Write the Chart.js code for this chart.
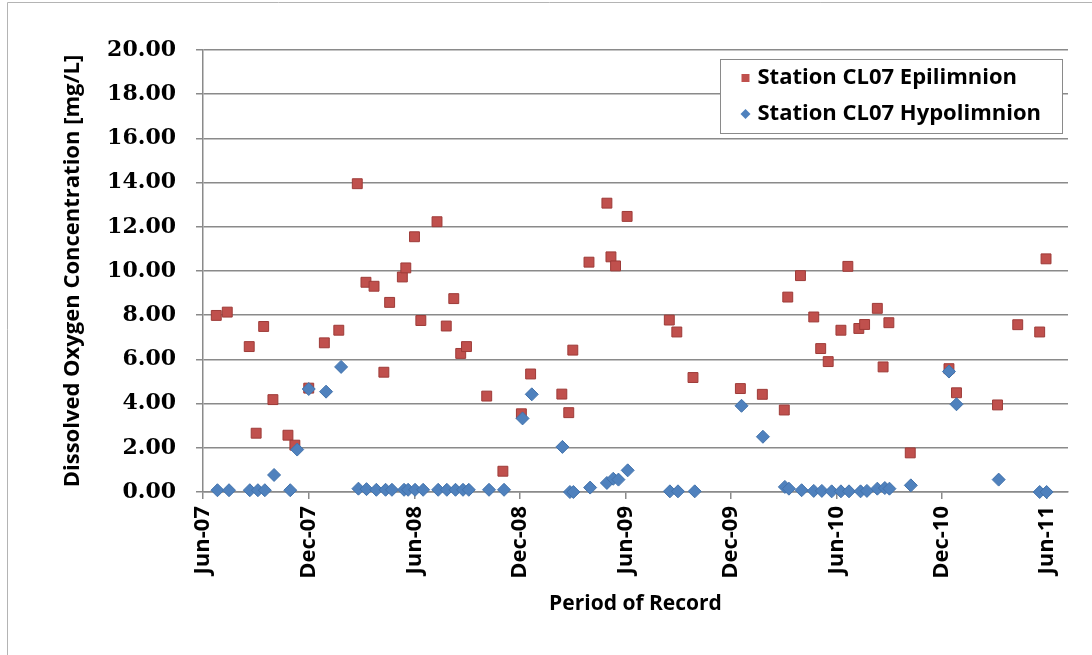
<!DOCTYPE html>
<html>
<head>
<meta charset="utf-8">
<script src="https://cdn.jsdelivr.net/npm/chart.js@4.4.1/dist/chart.umd.min.js"></script>
<style>
  html, body { margin: 0; padding: 0; background: #fff; }
  #wrap { width: 1092px; height: 655px; position: relative; }
</style>
</head>
<body>
<div id="wrap"><canvas id="doChart" width="1092" height="655"></canvas></div>
<script>
// Station CL07 dissolved oxygen readings
const epiDates = ['2007-06-24','2007-07-13','2007-08-20','2007-09-01','2007-09-14','2007-09-30','2007-10-26','2007-11-07','2007-12-01','2007-12-28',
  '2008-01-22','2008-02-23','2008-03-09','2008-03-23','2008-04-09','2008-04-19','2008-05-11','2008-05-17','2008-06-01','2008-06-12',
  '2008-07-10','2008-07-26','2008-08-08','2008-08-20','2008-08-30','2008-10-04','2008-11-01','2008-12-03','2008-12-19','2009-02-11',
  '2009-02-23','2009-03-02','2009-03-30','2009-04-30','2009-05-07','2009-05-15','2009-06-04','2009-08-16','2009-08-29','2009-09-26',
  '2009-12-17','2010-01-24','2010-03-03','2010-03-09','2010-03-31','2010-04-23','2010-05-05','2010-05-18','2010-06-09','2010-06-21',
  '2010-07-10','2010-07-20','2010-08-11','2010-08-21','2010-08-31','2010-10-07','2010-12-13','2010-12-26','2011-03-07','2011-04-11',
  '2011-05-19','2011-05-30'];
const epiValues = [7.99, 8.14, 6.58, 2.66, 7.49, 4.18, 2.57, 2.12, 4.70, 6.75,
  7.32, 13.95, 9.49, 9.31, 5.42, 8.58, 9.73, 10.14, 11.55, 7.76,
  12.23, 7.51, 8.75, 6.27, 6.58, 4.34, 0.94, 3.54, 5.34, 4.43,
  3.59, 6.42, 10.40, 13.07, 10.64, 10.23, 12.47, 7.78, 7.24, 5.18,
  4.68, 4.42, 3.71, 8.82, 9.79, 7.92, 6.49, 5.90, 7.32, 10.21,
  7.40, 7.58, 8.31, 5.66, 7.66, 1.77, 5.58, 4.49, 3.94, 7.57,
  7.24, 10.55];

const hypoDates = ['2007-06-26','2007-07-16','2007-08-21','2007-09-04','2007-09-16','2007-10-02','2007-10-30','2007-11-11','2007-12-01','2007-12-31',
  '2008-01-26','2008-02-25','2008-03-10','2008-03-27','2008-04-12','2008-04-23','2008-05-14','2008-05-21','2008-06-02','2008-06-16',
  '2008-07-12','2008-07-27','2008-08-11','2008-08-24','2008-09-03','2008-10-08','2008-11-03','2008-12-05','2008-12-21','2009-02-12',
  '2009-02-25','2009-03-03','2009-04-01','2009-04-30','2009-05-11','2009-05-20','2009-06-05','2009-08-17','2009-08-31','2009-09-29',
  '2009-12-19','2010-01-25','2010-03-04','2010-03-11','2010-04-02','2010-04-23','2010-05-07','2010-05-24','2010-06-09','2010-06-23',
  '2010-07-13','2010-07-24','2010-08-11','2010-08-24','2010-09-01','2010-10-08','2010-12-13','2010-12-26','2011-03-09','2011-05-19',
  '2011-05-31'];
const hypoValues = [0.08, 0.08, 0.08, 0.08, 0.08, 0.77, 0.08, 1.92, 4.66, 4.54,
  5.66, 0.15, 0.13, 0.10, 0.10, 0.10, 0.10, 0.10, 0.10, 0.10,
  0.10, 0.10, 0.10, 0.10, 0.10, 0.10, 0.10, 3.33, 4.42, 2.04,
  0.00, 0.00, 0.20, 0.41, 0.60, 0.56, 0.98, 0.03, 0.03, 0.03,
  3.90, 2.50, 0.23, 0.15, 0.08, 0.05, 0.05, 0.03, 0.03, 0.03,
  0.03, 0.05, 0.15, 0.18, 0.15, 0.30, 5.45, 3.97, 0.56, 0.00,
  0.00];

const xTickDates = ['2007-06-01','2007-12-01','2008-06-01','2008-12-01','2009-06-01','2009-12-01','2010-06-01','2010-12-01','2011-06-01'];
const xTickLabels = ['Jun-07','Dec-07','Jun-08','Dec-08','Jun-09','Dec-09','Jun-10','Dec-10','Jun-11'];
const xMin = '2007-06-01';
const xMax = '2011-07-07';

const seriesNames = ['Station CL07 Epilimnion', 'Station CL07 Hypolimnion'];

const toTime = (s) => Date.parse(s + 'T00:00:00Z');
const toPoints = (dates, values) => dates.map((d, i) => ({ x: toTime(d), y: values[i] }));

const gridGray = '#8a8a8a';
const sansFont = "'Open Sans', 'DejaVu Sans', sans-serif";

// draws the boxed legend in the upper right of the plot, plus the outer frame
const boxLegend = {
    id: 'boxLegend',
    afterDraw(chart) {
        const ctx = chart.ctx;
        const area = chart.chartArea;
        ctx.save();

        // outer frame (top and left edges visible)
        ctx.strokeStyle = '#b4b4b4';
        ctx.lineWidth = 1;
        ctx.beginPath();
        ctx.moveTo(7.5, 700);
        ctx.lineTo(7.5, 2.5);
        ctx.lineTo(1092, 2.5);
        ctx.stroke();

        ctx.font = 'bold 22px ' + sansFont;
        const textW = Math.max(...seriesNames.map(n => ctx.measureText(n).width));
        const right = area.right - 6;
        const top = area.top + 9;
        const w = textW + 58;
        const h = 74;
        const left = right - w;

        ctx.fillStyle = '#ffffff';
        ctx.fillRect(left, top, w, h);
        ctx.strokeStyle = '#8a8a8a';
        ctx.strokeRect(Math.round(left) + 0.5, top + 0.5, Math.round(w), h);

        const rows = [top + 19, top + 55];
        chart.data.datasets.forEach((ds, i) => {
            const cy = rows[i];
            const cx = left + 25;
            ctx.fillStyle = ds.backgroundColor;
            ctx.strokeStyle = ds.borderColor;
            ctx.beginPath();
            if (ds.pointStyle === 'rect') {
                ctx.rect(cx - 4, cy - 4, 8, 8);
            } else {
                ctx.moveTo(cx, cy - 5);
                ctx.lineTo(cx + 5, cy);
                ctx.lineTo(cx, cy + 5);
                ctx.lineTo(cx - 5, cy);
                ctx.closePath();
            }
            ctx.fill();
            ctx.fillStyle = '#000';
            ctx.textAlign = 'left';
            ctx.textBaseline = 'middle';
            ctx.fillText(ds.label, left + 37, cy);
        });
        ctx.restore();
    }
};

const ctx = document.getElementById('doChart').getContext('2d');

new Chart(ctx, {
    type: 'scatter',
    data: {
        datasets: [
            {
                label: seriesNames[0],
                data: toPoints(epiDates, epiValues),
                pointStyle: 'rect',
                pointRadius: 7,
                backgroundColor: '#C0504D',
                borderColor: '#9E3B38',
                borderWidth: 1,
                order: 1,
                clip: false
            },
            {
                label: seriesNames[1],
                data: toPoints(hypoDates, hypoValues),
                pointStyle: 'rectRot',
                pointRadius: 6.5,
                backgroundColor: '#4F81BD',
                borderColor: '#4272AB',
                borderWidth: 1,
                order: 0,
                clip: false
            }
        ]
    },
    options: {
        responsive: false,
        animation: false,
        layout: {
            padding: { top: 50, right: 24, bottom: 0, left: 0 }
        },
        plugins: {
            legend: { display: false },
            tooltip: { enabled: false }
        },
        scales: {
            x: {
                type: 'linear',
                min: toTime(xMin),
                max: toTime(xMax),
                afterFit: (scale) => { scale.height = 163; },
                afterBuildTicks: (scale) => {
                    scale.ticks = xTickDates.map(d => ({ value: toTime(d) }));
                },
                ticks: {
                    autoSkip: false,
                    minRotation: 90,
                    maxRotation: 90,
                    padding: 7,
                    color: '#000',
                    font: { family: sansFont, size: 22, weight: 'bold' },
                    callback: (value, index) => xTickLabels[index]
                },
                grid: {
                    drawOnChartArea: false,
                    drawTicks: true,
                    tickLength: 7,
                    color: gridGray,
                    lineWidth: 1.5
                },
                border: { display: true, color: gridGray, width: 1.5 },
                title: {
                    display: true,
                    text: 'Period of Record',
                    color: '#000',
                    font: { family: sansFont, size: 21, weight: 'bold' },
                    padding: { top: 0, bottom: 38 }
                }
            },
            y: {
                min: 0,
                max: 20,
                afterFit: (scale) => { scale.width = 203; },
                ticks: {
                    stepSize: 2,
                    padding: 20,
                    color: '#000',
                    font: { family: "'DejaVu Serif', serif", size: 22, weight: 'bold' },
                    callback: (value) => value.toFixed(2)
                },
                grid: {
                    color: gridGray,
                    lineWidth: 1.5,
                    tickLength: 7
                },
                border: { display: true, color: gridGray, width: 1.5 },
                title: {
                    display: true,
                    text: 'Dissolved Oxygen Concentration [mg/L]',
                    color: '#000',
                    font: { family: sansFont, size: 22, weight: 'bold' },
                    padding: { top: 60, bottom: 0 }
                }
            }
        }
    },
    plugins: [boxLegend]
});
</script>
</body>
</html>
